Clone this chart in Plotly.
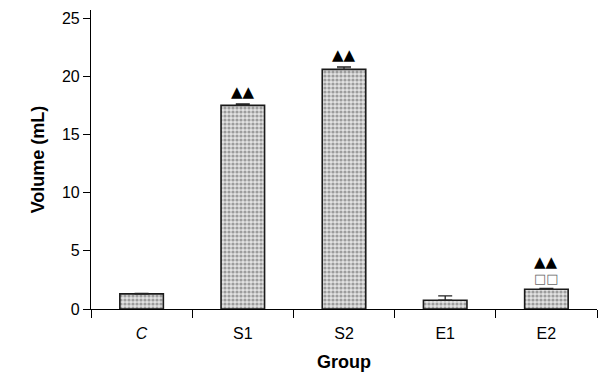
import plotly.graph_objects as go

groups = ["<i>C</i>", "S1", "S2", "E1", "E2"]
volume = [1.3, 17.5, 20.6, 0.75, 1.7]
errors = [0.05, 0.12, 0.2, 0.37, 0.08]
marks = ["", "▲▲", "▲▲", "", "▲▲"]
marks2 = ["", "", "", "", "□□"]

fig = go.Figure()
fig.add_trace(go.Bar(
    x=groups, y=volume, width=0.43,
    marker=dict(color="#cfcfcf", line=dict(color="#1a1a1a", width=1.6),
                pattern=dict(shape=".", fgcolor="#555555", bgcolor="#e2e2e2", size=4, solidity=0.5)),
    error_y=dict(type="data", array=errors, symmetric=False, arrayminus=[0]*5,
                 color="#222", thickness=1.3, width=7),
))

for g, v, e, m, m2 in zip(groups, volume, errors, marks, marks2):
    if m2:
        fig.add_annotation(x=g, y=v + e, text=m2, showarrow=False, yanchor="bottom",
                           yshift=0, font=dict(family="DejaVu Sans", size=13, color="#666"))
        fig.add_annotation(x=g, y=v + e, text=m, showarrow=False, yanchor="bottom",
                           yshift=15, font=dict(family="DejaVu Sans", size=15, color="#000"))
    elif m:
        fig.add_annotation(x=g, y=v + e, text=m, showarrow=False, yanchor="bottom",
                           yshift=1, font=dict(family="DejaVu Sans", size=15, color="#000"))

# page body has an 8px margin, so the figure is shrunk and shifted to compensate
fig.update_layout(
    width=606, height=368,
    margin=dict(l=83, r=17, t=2, b=67),
    plot_bgcolor="white", paper_bgcolor="white",
    font=dict(family="Liberation Sans, Arial", size=16, color="#000"),
    showlegend=False,
)
fig.update_xaxes(
    type="category", tickson="boundaries", ticks="outside", ticklen=8, tickcolor="#000",
    showline=True, linecolor="#000", linewidth=1.2, showgrid=False, automargin=False,
    ticklabelstandoff=10,
    title=dict(text="<b>Group</b>", font=dict(size=18), standoff=14),
    tickfont=dict(size=16), range=[-0.5, 4.5],
)
fig.update_yaxes(
    range=[0, 25.7], tickvals=[0, 5, 10, 15, 20, 25], ticks="outside", ticklen=7, tickcolor="#000",
    showline=True, linecolor="#000", linewidth=1.2, showgrid=False, zeroline=False, automargin=False,
    title=dict(text="<b>Volume (mL)</b>", font=dict(size=18), standoff=12),
    tickfont=dict(size=16),
)

fig.write_html("out.html")
